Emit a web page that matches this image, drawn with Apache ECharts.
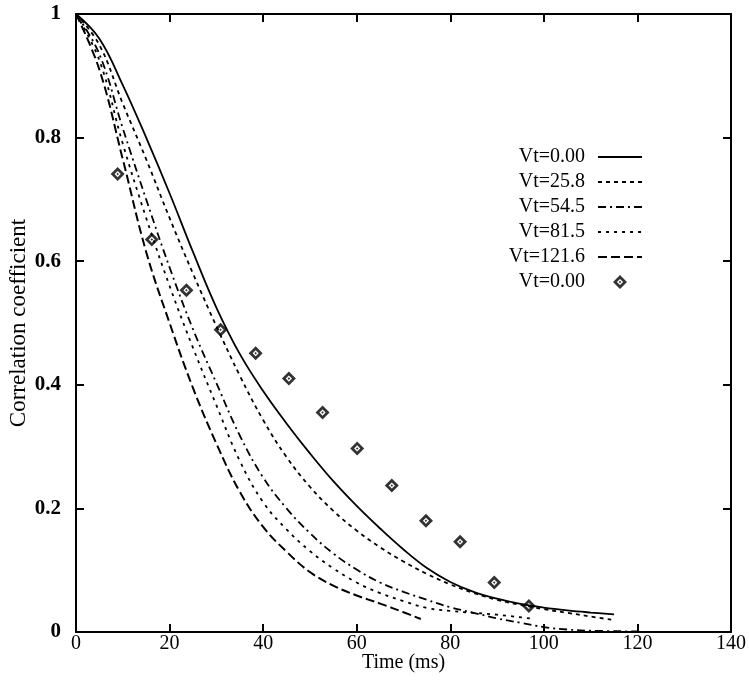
<!DOCTYPE html>
<html>
<head>
<meta charset="utf-8">
<script src="https://cdn.jsdelivr.net/npm/echarts@6/dist/echarts.min.js"></script>
<style>
html,body{margin:0;padding:0;background:#fff;}
#c{width:749px;height:691px;}
</style>
</head>
<body>
<div id="c"></div>
<script>
// ---- data (time in ms, correlation coefficient) ----
const seriesLabels = ['Vt=0.00', 'Vt=25.8', 'Vt=54.5', 'Vt=81.5', 'Vt=121.6', 'Vt=0.00'];
const xTicks = [0, 20, 40, 60, 80, 100, 120, 140];
const yTicks = [0, 0.2, 0.4, 0.6, 0.8, 1];

const vt000 = [[0,1],[5,0.96],[10,0.885],[15,0.80],[20,0.71],[25,0.615],[30,0.525],[35,0.45],[40,0.39],[45,0.3375],[50,0.289],[55,0.244],[60,0.204],[65,0.1675],[70,0.1335],[75,0.1035],[80,0.081],[85,0.065],[90,0.054],[95,0.0455],[100,0.0395],[105,0.035],[110,0.0315],[115,0.0285]];
const vt258 = [[0,1],[5,0.95],[10,0.855],[15,0.765],[20,0.67],[25,0.58],[30,0.495],[35,0.415],[40,0.343],[45,0.283],[50,0.235],[55,0.196],[60,0.164],[65,0.137],[70,0.114],[75,0.094],[80,0.077],[85,0.063],[90,0.052],[95,0.044],[100,0.037],[105,0.031],[110,0.025],[114.4,0.02]];
const vt545 = [[0,1],[5,0.935],[10,0.815],[15,0.70],[20,0.59],[25,0.49],[30,0.403],[35,0.318],[40,0.25],[45,0.20],[50,0.16],[55,0.127],[60,0.101],[65,0.08],[70,0.065],[75,0.052],[80,0.04],[85,0.031],[90,0.022],[95,0.015],[100,0.008],[105,0.004],[110,0.002],[120,0.001]];
const vt815 = [[0,1],[5,0.925],[10,0.79],[15,0.67],[20,0.56],[25,0.46],[30,0.367],[35,0.277],[40,0.21],[45,0.166],[50,0.131],[55,0.103],[60,0.08],[65,0.063],[70,0.05],[75,0.039],[80,0.034],[85,0.031],[90,0.028],[97,0.022]];
const vt1216 = [[0,1],[5,0.91],[10,0.765],[15,0.615],[20,0.50],[25,0.395],[30,0.305],[35,0.227],[40,0.17],[45,0.13],[50,0.097],[55,0.075],[60,0.059],[65,0.046],[70,0.032],[73.7,0.021]];
const diamondT = [8.9, 16.2, 23.6, 30.9, 38.4, 45.5, 52.7, 60.1, 67.5, 74.8, 82.1, 89.4, 96.8];
const diamondV = [0.741, 0.635, 0.553, 0.489, 0.451, 0.410, 0.355, 0.297, 0.237, 0.180, 0.146, 0.080, 0.042];

const FONT = '"Liberation Serif", "DejaVu Serif", serif';
const diamondPath = 'path://M5 0 L10 5 L5 10 L0 5 Z M5 2.8 L2.8 5 L5 7.2 L7.2 5 Z M4.1 5 L5 4.1 L5.9 5 L5 5.9 Z';

const chart = echarts.init(document.getElementById('c'));
const ids = ['s0','s1','s2','s3','s4','s5'];
function lineSeries(id, data, type, width) {
  return {
    id: id, name: id, type: 'line', data: data, smooth: 0.4,
    symbol: 'none', showSymbol: false,
    lineStyle: { color: '#000', width: width, type: type },
    itemStyle: { color: '#000' },
    z: 3
  };
}
const legendData = ids.map(function (id, i) {
  return i < 5 ? { name: id, itemStyle: { opacity: 0 } } : { name: id };
});
const option = {
  backgroundColor: '#fff',
  animation: false,
  grid: { left: 76, top: 14, right: 18, bottom: 59, containLabel: false, outerBoundsMode: 'none' },
  legend: {
    orient: 'vertical', align: 'right',
    right: 101, top: 142,
    itemWidth: 44, itemHeight: 14, itemGap: 5,
    data: legendData,
    formatter: function (n) { return seriesLabels[ids.indexOf(n)]; },
    textStyle: { fontFamily: FONT, fontSize: 20, color: '#000', padding: [0, 8, 0, 0] }
  },
  xAxis: [{
    type: 'value', min: 0, max: 140, interval: 20,
    name: 'Time (ms)', nameLocation: 'middle', nameGap: 21, nameMoveOverlap: false,
    nameTextStyle: { fontFamily: FONT, fontSize: 20, color: '#000' },
    axisLine: { show: true, onZero: false, lineStyle: { color: '#000', width: 2 } },
    axisTick: { show: true, inside: true, length: 8, lineStyle: { color: '#000', width: 2 } },
    axisLabel: { margin: 2, fontFamily: FONT, fontSize: 20, color: '#000',
      formatter: function (v) { return xTicks.indexOf(v) >= 0 ? String(v) : ''; } },
    splitLine: { show: false }
  }, {
    type: 'value', min: 0, max: 140, interval: 20, position: 'top',
    axisLine: { show: true, onZero: false, lineStyle: { color: '#000', width: 2 } },
    axisTick: { show: true, inside: true, length: 8, lineStyle: { color: '#000', width: 2 } },
    axisLabel: { show: false }, splitLine: { show: false }
  }],
  yAxis: [{
    type: 'value', min: 0, max: 1, interval: 0.2,
    name: 'Correlation coefficient', nameLocation: 'middle', nameGap: 46, nameMoveOverlap: false,
    nameTextStyle: { fontFamily: FONT, fontSize: 23, color: '#000' },
    axisLine: { show: true, onZero: false, lineStyle: { color: '#000', width: 2 } },
    axisTick: { show: true, inside: true, length: 8, lineStyle: { color: '#000', width: 2 } },
    axisLabel: { margin: 15, fontFamily: FONT, fontSize: 21, fontWeight: 'bold', color: '#000',
      formatter: function (v) {
        const t = yTicks.find(function (k) { return Math.abs(k - v) < 1e-9; });
        if (t === undefined) return '';
        if (t === 0 || t === 1) return String(t);
        return t.toFixed(1);
      } },
    splitLine: { show: false }
  }, {
    type: 'value', min: 0, max: 1, interval: 0.2, position: 'right',
    axisLine: { show: true, onZero: false, lineStyle: { color: '#000', width: 2 } },
    axisTick: { show: true, inside: true, length: 8, lineStyle: { color: '#000', width: 2 } },
    axisLabel: { show: false }, splitLine: { show: false }
  }],
  series: [
    lineSeries('s0', vt000, 'solid', 1.8),
    lineSeries('s1', vt258, [4, 4], 1.8),
    lineSeries('s2', vt545, [8, 4, 2, 4], 1.8),
    lineSeries('s3', vt815, [3, 5], 1.8),
    lineSeries('s4', vt1216, [9, 4], 2),
    {
      id: 's5', name: 's5', type: 'scatter',
      data: diamondT.map(function (t, i) { return [t, diamondV[i]]; }),
      symbol: diamondPath, symbolSize: 14, symbolKeepAspect: true,
      itemStyle: { color: '#000' }, z: 4
    }
  ]
};
chart.setOption(option);
</script>
</body>
</html>
